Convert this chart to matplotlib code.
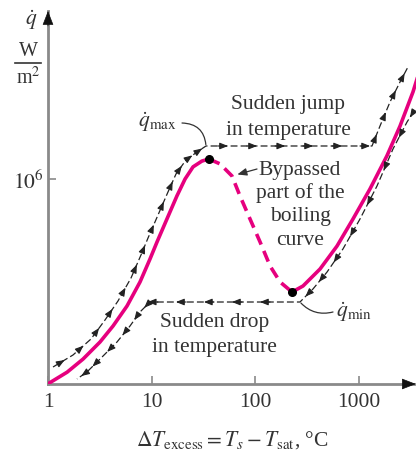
import numpy as np
import matplotlib.pyplot as plt
from matplotlib.lines import Line2D

plt.rcParams["font.family"] = ["Liberation Serif", "DejaVu Serif"]
plt.rcParams["mathtext.fontset"] = "stix"

TEXT = "#333333"
PINK = "#e6007e"
AXIS = "#8a8a8a"
FS = 15.5

# boiling curve: nucleate (solid), transition (bypassed, dashed), film (solid)
nucleate_dT = [1.0, 1.53, 2.18, 3.18, 4.25, 5.80, 7.74, 9.68, 11.3, 14.1, 17.6, 21.1, 25.2, 30.7, 35.9]
nucleate_q = [1.05e4, 1.36e4, 1.82e4, 2.66e4, 3.80e4, 5.93e4, 1.01e5, 1.69e5, 2.46e5,
              4.11e5, 6.86e5, 1.0e6, 1.31e6, 1.49e6, 1.56e6]
transition_dT = [35.9, 45.9, 59.9, 71.6, 89.5, 112, 140, 175, 228]
transition_q = [1.56e6, 1.40e6, 1.07e6, 6.86e5, 4.11e5, 2.46e5, 1.44e5, 1.01e5, 8.09e4]
film_dT = [228, 291, 425, 620, 885, 1290, 1880, 2520, 3360, 3675]
film_q = [8.09e4, 9.25e4, 1.35e5, 2.25e5, 4.11e5, 8.0e5, 1.67e6, 3.25e6, 6.93e6, 9.25e6]

# heating path (with sudden jump) and cooling path (with sudden drop)
heat_dT = [1.118, 1.744, 2.604, 3.554, 4.747, 6.338, 7.914, 9.252, 11.56, 14.43, 17.25, 21.54, 27.52,
           33.6, 1350, 1613, 2016, 2518, 3008]
heat_q = [1.526e4, 1.993e4, 2.846e4, 4.34e4, 6.63e4, 1.105e5, 1.844e5, 2.69e5, 4.49e5, 7.49e5, 1.118e6,
          1.526e6, 1.823e6, 2.084e6, 2.084e6, 3.25e6, 5.55e6, 8.65e6, 1.21e7]
cool_dT = [3437, 2942, 2154, 1509, 1034, 708, 496, 363, 272, 9.67, 7.74, 6.20, 4.64, 3.18, 2.38, 1.906]
cool_q = [4.54e6, 3.55e6, 1.95e6, 8.56e5, 4.11e5, 2.11e5, 1.26e5, 8.65e4, 6.48e4, 6.48e4, 5.19e4,
          3.80e4, 2.66e4, 1.82e4, 1.366e4, 1.169e4]
jump_arrow_dT = [49, 93.5, 175, 325, 620, 1156]
drop_arrow_dT = [10.3, 19.3, 35.9, 67, 125]

q_max = (35.9, 1.56e6)
q_min = (228, 8.09e4)

x_ticks = [1, 10, 100, 1000]
x_tick_labels = ["1", "10", "100", "1000"]

W_PX, H_PX = 416, 452
HEAD = "-|>,head_length=0.7,head_width=0.28"


def fxy(px, py):
    return (px / W_PX, 1 - py / H_PX)


def arrow_head(ax, x0, y0, x1, y1, t=0.5):
    lx0, ly0, lx1, ly1 = np.log10([x0, y0, x1, y1])
    tip = (10 ** (lx0 + (t + 0.08) * (lx1 - lx0)), 10 ** (ly0 + (t + 0.08) * (ly1 - ly0)))
    tail = (10 ** (lx0 + (t - 0.08) * (lx1 - lx0)), 10 ** (ly0 + (t - 0.08) * (ly1 - ly0)))
    ax.annotate("", xy=tip, xytext=tail,
                arrowprops=dict(arrowstyle=HEAD, mutation_scale=7, color="#222222", lw=0.8,
                                shrinkA=0, shrinkB=0))


def path_arrows(ax, xs, ys, skip):
    for i in range(len(xs) - 1):
        if i in skip:
            continue
        arrow_head(ax, xs[i], ys[i], xs[i + 1], ys[i + 1])


fig = plt.figure(figsize=(W_PX / 100, H_PX / 100), dpi=100)
left, right, bottom, top = 48, 414, 385, 12
ax = fig.add_axes([left / W_PX, 1 - bottom / H_PX, (right - left) / W_PX, (bottom - top) / H_PX])
ax.set_xscale("log")
ax.set_yscale("log")
ax.set_xlim(1, 10 ** ((right - left) / 103.5))
ax.set_ylim(10 ** (6 - (bottom - 180) / 103.5), 10 ** (6 + (180 - top) / 103.5))

# boiling curve
ax.plot(nucleate_dT, nucleate_q, color=PINK, lw=2.6, solid_capstyle="round", solid_joinstyle="round", zorder=3)
ax.plot(transition_dT, transition_q, color=PINK, lw=2.6, linestyle=(0, (3.2, 1.9)), zorder=3)
ax.plot(film_dT, film_q, color=PINK, lw=2.6, solid_joinstyle="round", zorder=3, clip_on=False)
ax.plot(*zip(q_max, q_min), "o", color="black", ms=5.5, zorder=4)

# heating / cooling paths
dash = (0, (5.5, 2.5))
ax.plot(heat_dT, heat_q, color="#222222", lw=0.9, linestyle=dash, zorder=2, clip_on=False)
ax.plot(cool_dT, cool_q, color="#222222", lw=0.9, linestyle=dash, zorder=2, clip_on=False)
path_arrows(ax, heat_dT, heat_q, skip={13})
path_arrows(ax, cool_dT, cool_q, skip={8})
for x in jump_arrow_dT:
    ax.annotate("", xy=(x * 1.12, heat_q[13]), xytext=(x / 1.12, heat_q[13]),
                arrowprops=dict(arrowstyle=HEAD, mutation_scale=7, color="#222222", lw=0.8,
                                shrinkA=0, shrinkB=0))
for x in drop_arrow_dT:
    ax.annotate("", xy=(x / 1.12, cool_q[8]), xytext=(x * 1.12, cool_q[8]),
                arrowprops=dict(arrowstyle=HEAD, mutation_scale=7, color="#222222", lw=0.8,
                                shrinkA=0, shrinkB=0))

# axes
for side in ["top", "right"]:
    ax.spines[side].set_visible(False)
for side in ["left", "bottom"]:
    ax.spines[side].set_color(AXIS)
    ax.spines[side].set_linewidth(2)
ax.annotate("", xy=(0, 1), xytext=(0, 0.96), xycoords="axes fraction",
            arrowprops=dict(arrowstyle="-|>,head_length=0.9,head_width=0.35", mutation_scale=10,
                            color="#111111", lw=0.5, shrinkA=0, shrinkB=0), annotation_clip=False)
ax.annotate("", xy=(1.005, 0), xytext=(0.97, 0), xycoords="axes fraction",
            arrowprops=dict(arrowstyle="-|>,head_length=0.9,head_width=0.35", mutation_scale=10,
                            color="#111111", lw=0.5, shrinkA=0, shrinkB=0), annotation_clip=False)

ax.set_xticks(x_ticks)
ax.set_xticklabels(x_tick_labels)
ax.set_yticks([1e6])
ax.set_yticklabels([r"$10^6$"])
ax.minorticks_off()
ax.tick_params(axis="both", direction="in", length=6, width=1.2, color=AXIS,
               labelsize=FS, labelcolor=TEXT)
ax.tick_params(axis="x", pad=6)
ax.tick_params(axis="y", pad=3)

# axis labels
fig.text(*fxy(232, 440), r"$\Delta T_{\rm excess} = T_s - T_{\rm sat}$, °C", ha="center", va="center",
         fontsize=FS, color=TEXT)
fig.text(*fxy(31, 20), r"$\dot{q}$", ha="center", va="center", fontsize=FS, color=TEXT)
fig.text(*fxy(28, 52), "W", ha="center", va="center", fontsize=FS - 1, color=TEXT)
fig.add_artist(Line2D([15 / W_PX, 41 / W_PX], [1 - 64 / H_PX] * 2, color=TEXT, lw=1.2))
fig.text(*fxy(28, 78), r"m$^2$", ha="center", va="center", fontsize=FS - 1, color=TEXT)

# annotations
fig.text(*fxy(157, 122), r"$\dot{q}_{\rm max}$", ha="center", va="center", fontsize=FS, color=TEXT)
ax.annotate("", xy=(heat_dT[13], heat_q[13]), xytext=fxy(182, 124), textcoords="figure fraction",
            arrowprops=dict(arrowstyle="-", color="#333333", lw=0.9, shrinkA=0, shrinkB=1,
                            connectionstyle="arc3,rad=-0.45"))
fig.text(*fxy(354, 312), r"$\dot{q}_{\rm min}$", ha="center", va="center", fontsize=FS, color=TEXT)
ax.annotate("", xy=(cool_dT[8], cool_q[8]), xytext=fxy(333, 313), textcoords="figure fraction",
            arrowprops=dict(arrowstyle="-", color="#333333", lw=0.9, shrinkA=0, shrinkB=1,
                            connectionstyle="arc3,rad=-0.3"))
ax.annotate("", xy=(transition_dT[2], transition_q[2]), xytext=fxy(257, 170),
            textcoords="figure fraction",
            arrowprops=dict(arrowstyle=HEAD, mutation_scale=8, color="#333333", lw=0.9,
                            shrinkA=0, shrinkB=4))
for text, py in [("Bypassed", 170), ("part of the", 193), ("boiling", 217), ("curve", 241)]:
    fig.text(*fxy(300, py), text, ha="center", va="center", fontsize=FS, color=TEXT)
for text, px, py in [("Sudden jump", 288, 104), ("in temperature", 288, 130),
                     ("Sudden drop", 215, 323), ("in temperature", 214, 348)]:
    fig.text(*fxy(px, py), text, ha="center", va="center", fontsize=FS, color=TEXT)

fig.savefig("out.png", dpi=100)
